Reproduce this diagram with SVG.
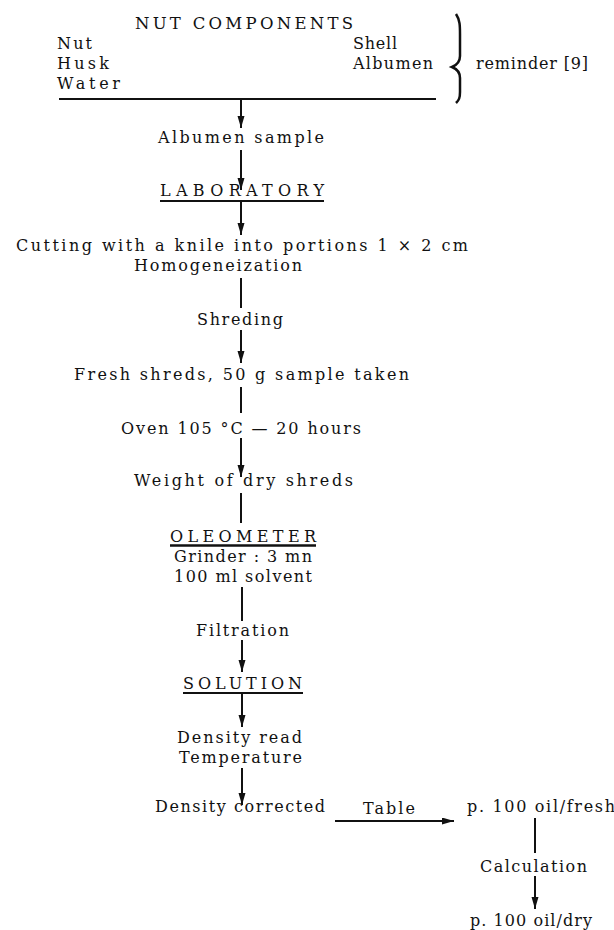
<svg xmlns="http://www.w3.org/2000/svg" width="614" height="930" viewBox="0 0 614 930">
<style>
text{font-family:"DejaVu Serif","Liberation Serif",serif;font-size:16px;fill:#111}
.t{font-size:16.5px}
.c{stroke:#111;stroke-width:2;fill:none}
.u{stroke:#111;stroke-width:2;fill:none}
</style>
<defs>
<marker id="ah" markerUnits="userSpaceOnUse" markerWidth="13" markerHeight="8" refX="12" refY="3.5" orient="auto">
<path d="M0,0 L12,3.5 L0,7 Z" fill="#111"/>
</marker>
</defs>
<rect width="614" height="930" fill="#fff"/>

<g id="components">
<text class="t" x="135" y="29" textLength="218" lengthAdjust="spacing">NUT COMPONENTS</text>
<text x="57" y="49" textLength="35" lengthAdjust="spacing">Nut</text>
<text x="57" y="69" textLength="52" lengthAdjust="spacing">Husk</text>
<text x="57" y="89" textLength="63" lengthAdjust="spacing">Water</text>
<text x="353" y="49" textLength="44" lengthAdjust="spacing">Shell</text>
<text x="353" y="69" textLength="80" lengthAdjust="spacing">Albumen</text>
<line class="u" x1="59" y1="99" x2="436" y2="99"/>
<path d="M456,14 C460,20 460,26 460,34 L460,56 C460,62 457,65 452,67 C457,69 460,72 460,78 L460,92 C460,98 459,100 456,103" stroke="#111" stroke-width="2.5" fill="none"/>
<text x="476" y="69" textLength="112" lengthAdjust="spacing">reminder [9]</text>
</g>

<g id="albumen-sample"><text x="158" y="143" textLength="166" lengthAdjust="spacing">Albumen sample</text></g>
<g id="laboratory"><text x="160" y="196" textLength="164" lengthAdjust="spacing">LABORATORY</text><line class="u" x1="160" y1="201" x2="324" y2="201"/></g>
<g id="cutting">
<text x="16" y="251" textLength="452" lengthAdjust="spacing">Cutting with a knile into portions 1 × 2 cm</text>
<text x="134" y="271" textLength="168" lengthAdjust="spacing">Homogeneization</text>
</g>
<g id="shreding"><text x="197" y="325" textLength="86" lengthAdjust="spacing">Shreding</text></g>
<g id="fresh-shreds"><text x="74" y="380" textLength="335" lengthAdjust="spacing">Fresh shreds, 50 g sample taken</text></g>
<g id="oven"><text x="121" y="434" textLength="240" lengthAdjust="spacing">Oven 105 °C — 20 hours</text></g>
<g id="weight"><text x="134" y="486" textLength="219" lengthAdjust="spacing">Weight of dry shreds</text></g>
<g id="oleometer">
<text x="170" y="542" textLength="146" lengthAdjust="spacing">OLEOMETER</text>
<line x1="170" y1="545.5" x2="316" y2="545.5" stroke="#111" stroke-width="2.5"/>
<text x="174" y="562" textLength="138" lengthAdjust="spacing">Grinder : 3 mn</text>
<text x="174" y="582" textLength="138" lengthAdjust="spacing">100 ml solvent</text>
</g>
<g id="filtration"><text x="196" y="636" textLength="93" lengthAdjust="spacing">Filtration</text></g>
<g id="solution"><text x="183" y="689" textLength="119" lengthAdjust="spacing">SOLUTION</text><line class="u" x1="183" y1="693" x2="303" y2="693"/></g>
<g id="density-read">
<text x="177" y="743" textLength="125" lengthAdjust="spacing">Density read</text>
<text x="179" y="763" textLength="123" lengthAdjust="spacing">Temperature</text>
</g>
<g id="density-corrected"><text x="155" y="812" textLength="170" lengthAdjust="spacing">Density corrected</text></g>
<g id="oil-fresh"><text x="467" y="812" textLength="148" lengthAdjust="spacing">p. 100 oil/fresh</text></g>
<g id="calculation"><text x="480" y="872" textLength="107" lengthAdjust="spacing">Calculation</text></g>
<g id="oil-dry"><text x="470" y="926" textLength="122" lengthAdjust="spacing">p. 100 oil/dry</text></g>

<g id="connectors">
<line class="c" x1="241" y1="99" x2="241" y2="128" marker-end="url(#ah)"/>
<line class="c" x1="241" y1="150" x2="241" y2="190" marker-end="url(#ah)"/>
<line class="c" x1="241" y1="201" x2="241" y2="235" marker-end="url(#ah)"/>
<line class="c" x1="241" y1="278" x2="241" y2="308"/>
<line class="c" x1="241" y1="330" x2="241" y2="363" marker-end="url(#ah)"/>
<line class="c" x1="241" y1="387" x2="241" y2="413"/>
<line class="c" x1="241" y1="438" x2="241" y2="477" marker-end="url(#ah)"/>
<line class="c" x1="241" y1="493" x2="241" y2="523"/>
<line class="c" x1="242" y1="587" x2="242" y2="621"/>
<line class="c" x1="242" y1="640" x2="242" y2="672" marker-end="url(#ah)"/>
<line class="c" x1="242" y1="693" x2="242" y2="727" marker-end="url(#ah)"/>
<line class="c" x1="242" y1="768" x2="242" y2="805" marker-end="url(#ah)"/>
<line class="c" x1="335" y1="821" x2="454" y2="821" marker-end="url(#ah)"/>
<text x="363" y="814" textLength="52" lengthAdjust="spacing">Table</text>
<line class="c" x1="535" y1="818" x2="535" y2="853"/>
<line class="c" x1="535" y1="876" x2="535" y2="909" marker-end="url(#ah)"/>
</g>
</svg>
